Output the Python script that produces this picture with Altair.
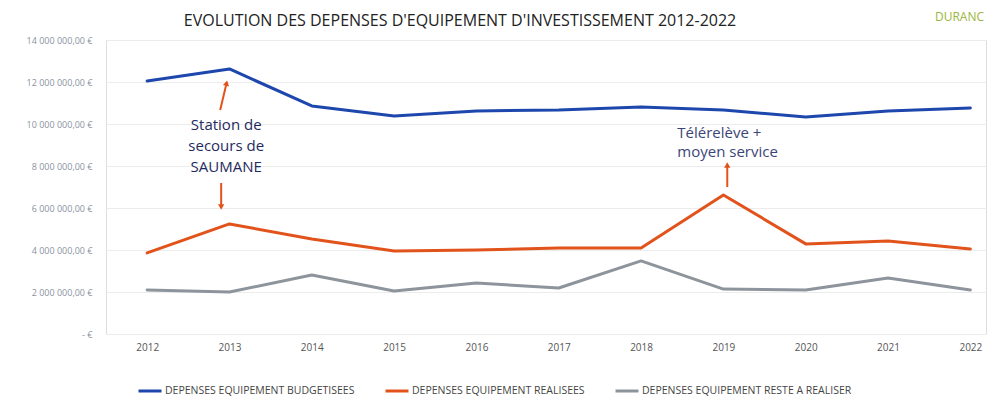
import altair as alt
import pandas as pd

# ---- data ----
years = list(range(2012, 2023))
budgetisees = [12.05e6, 12.62e6, 10.86e6, 10.38e6, 10.62e6, 10.67e6, 10.81e6, 10.67e6, 10.33e6, 10.62e6, 10.76e6]
realisees = [3.86e6, 5.24e6, 4.52e6, 3.95e6, 4.00e6, 4.10e6, 4.10e6, 6.62e6, 4.29e6, 4.43e6, 4.05e6]
reste = [2.10e6, 2.00e6, 2.81e6, 2.05e6, 2.43e6, 2.19e6, 3.48e6, 2.14e6, 2.10e6, 2.67e6, 2.10e6]
series_names = [
    "DEPENSES EQUIPEMENT BUDGETISEES",
    "DEPENSES EQUIPEMENT REALISEES",
    "DEPENSES EQUIPEMENT RESTE A REALISER",
]
series_colors = ["#1e47ad", "#e2531c", "#8d949c"]
y_ticks = [0, 2e6, 4e6, 6e6, 8e6, 10e6, 12e6, 14e6]

title_text = "EVOLUTION DES DEPENSES D'EQUIPEMENT D'INVESTISSEMENT 2012-2022"
logo_text = "DURANC"

# annotations (in data units: year, euros)
note1_lines = ["Station de", "secours de", "SAUMANE"]
note1_x = [2012.96, 2012.96, 2012.96]
note1_y = [9.71e6, 8.71e6, 7.70e6]
note2_lines = ["Télérelève +", "moyen service"]
note2_x = [2018.44, 2018.44]
note2_y = [9.33e6, 8.45e6]

arrow_x = [2012.887, 2012.899, 2019.047]
arrow_y = [10.67e6, 7.19e6, 7.00e6]
arrow_x2 = [2012.965, 2012.899, 2019.047]
arrow_y2 = [11.95e6, 6.05e6, 8.05e6]
arrow_shape = ["triangle-up", "triangle-down", "triangle-up"]
arrow_angle = [13, 0, 0]

# ---- tables ----
rows = []
for name, vals in zip(series_names, [budgetisees, realisees, reste]):
    for yr, v in zip(years, vals):
        rows.append({"annee": yr, "serie": name, "valeur": v})
df = pd.DataFrame(rows)

notes1 = pd.DataFrame({"x": note1_x, "y": note1_y, "t": note1_lines})
notes2 = pd.DataFrame({"x": note2_x, "y": note2_y, "t": note2_lines})
arrows = pd.DataFrame({"x": arrow_x, "y": arrow_y, "x2": arrow_x2, "y2": arrow_y2,
                       "shape": arrow_shape, "angle": arrow_angle})

x_scale = alt.Scale(domain=[2011.5, 2022.19], nice=False, zero=False)
y_scale = alt.Scale(domain=[0, 14e6], nice=False)

label_expr = ("datum.value == 0 ? '- €' : "
              "replace(replace(format(datum.value, ',.2f'), regexp(',', 'g'), ' '), '.', ',') + ' €'")

lines = alt.Chart(df).mark_line(strokeWidth=3, strokeCap="round", strokeJoin="round").encode(
    x=alt.X("annee:Q", scale=x_scale, title=None,
            axis=alt.Axis(values=years, format="d", grid=False, domain=False, ticks=False,
                          labelFont="Open Sans", labelFontSize=10, labelColor="#555555",
                          labelPadding=8)),
    y=alt.Y("valeur:Q", scale=y_scale, title=None,
            axis=alt.Axis(values=y_ticks, labelExpr=label_expr, grid=True, gridColor="#ececec",
                          gridWidth=1, domain=False, ticks=False,
                          labelFont="Open Sans", labelFontSize=9, labelColor="#8a92a0",
                          labelPadding=14)),
    color=alt.Color("serie:N",
                    scale=alt.Scale(domain=series_names, range=series_colors),
                    legend=alt.Legend(title=None, orient="none", direction="horizontal",
                                      legendX=31, legendY=338,
                                      symbolType="stroke", symbolSize=529, symbolStrokeWidth=3,
                                      labelFont="Open Sans", labelFontSize=10.5, labelColor="#444444",
                                      labelLimit=400, labelOffset=2, columnPadding=24,
                                      padding=0)),
    detail="serie:N",
)

text1 = alt.Chart(notes1).mark_text(font="Open Sans", fontSize=15, color="#1f2a5e",
                                    align="center", baseline="alphabetic").encode(
    x=alt.X("x:Q", scale=x_scale), y=alt.Y("y:Q", scale=y_scale), text="t:N")

text2 = alt.Chart(notes2).mark_text(font="Open Sans", fontSize=15, color="#3b4677",
                                    align="left", baseline="alphabetic").encode(
    x=alt.X("x:Q", scale=x_scale), y=alt.Y("y:Q", scale=y_scale), text="t:N")

shafts = alt.Chart(arrows).mark_rule(color="#e2531c", strokeWidth=2).encode(
    x=alt.X("x:Q", scale=x_scale), y=alt.Y("y:Q", scale=y_scale),
    x2="x2:Q", y2="y2:Q")

heads = alt.Chart(arrows).mark_point(filled=True, color="#e2531c", size=40, opacity=1).encode(
    x=alt.X("x2:Q", scale=x_scale), y=alt.Y("y2:Q", scale=y_scale),
    shape=alt.Shape("shape:N", scale=None), angle=alt.Angle("angle:Q", scale=None))

title = alt.Chart(pd.DataFrame({"t": [title_text]})).mark_text(
    font="Open Sans", fontSize=16, color="#222222", align="center", baseline="alphabetic").encode(
    x=alt.value(354), y=alt.value(-14), text="t:N")

logo = alt.Chart(pd.DataFrame({"t": [logo_text]})).mark_text(
    font="Open Sans", fontSize=12, color="#9ab540", align="left", baseline="alphabetic").encode(
    x=alt.value(829), y=alt.value(-19), text="t:N")

chart = alt.layer(lines, shafts, heads, text1, text2, title, logo).properties(
    width=880, height=294,
    autosize=alt.AutoSizeParams(type="none"),
    padding={"left": 98, "top": 32, "right": 8, "bottom": 63},
).configure_view(stroke=None).configure(background="white")

chart.save("out.html", embed_options={"renderer": "svg", "actions": False})
